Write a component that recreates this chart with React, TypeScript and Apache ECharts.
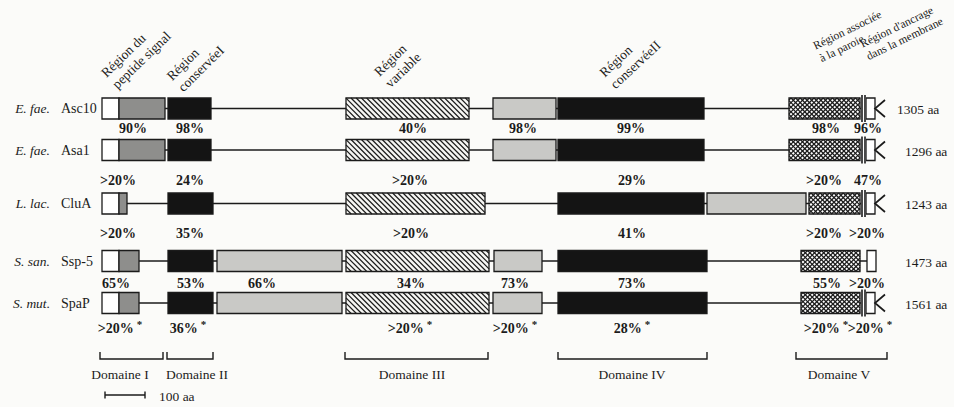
import React, { useEffect, useRef } from "react";
import * as echarts from "echarts";

// ---------- data (positions along the protein, in aa) ----------
const species = ["E. fae.", "E. fae.", "L. lac.", "S. san.", "S. mut."];
const proteins = ["Asc10", "Asa1", "CluA", "Ssp-5", "SpaP"];
const lengths = ["1305 aa", "1296 aa", "1243 aa", "1473 aa", "1561 aa"];
const anchorK = [true, true, true, false, true];

// [start, end, kind]  w=white, g=signal grey, b=black, h=hatched, l=light grey, x=cross-hatched, a=anchor box
const segAsc10: [number, number, string][] = [
  [0, 42.5, "w"], [42.5, 157.5, "g"], [165, 272.5, "b"], [610, 917.5, "h"],
  [977.5, 1135, "l"], [1140, 1505, "b"], [1717.5, 1895, "x"], [1910, 1932.5, "a"],
];
const segAsa1: [number, number, string][] = [
  [0, 42.5, "w"], [42.5, 157.5, "g"], [165, 272.5, "b"], [610, 917.5, "h"],
  [977.5, 1135, "l"], [1140, 1505, "b"], [1717.5, 1895, "x"], [1910, 1932.5, "a"],
];
const segCluA: [number, number, string][] = [
  [0, 42.5, "w"], [42.5, 62.5, "g"], [165, 277.5, "b"], [610, 957.5, "h"],
  [1140, 1505, "b"], [1512.5, 1760, "l"], [1767.5, 1895, "x"], [1910, 1932.5, "a"],
];
const segSsp5: [number, number, string][] = [
  [0, 42.5, "w"], [42.5, 92.5, "g"], [165, 277.5, "b"], [287.5, 600, "l"], [610, 967.5, "h"],
  [980, 1100, "l"], [1140, 1512.5, "b"], [1747.5, 1895, "x"], [1912.5, 1935, "a"],
];
const segSpaP: [number, number, string][] = [
  [0, 42.5, "w"], [42.5, 92.5, "g"], [165, 277.5, "b"], [287.5, 600, "l"], [610, 967.5, "h"],
  [977.5, 1100, "l"], [1140, 1512.5, "b"], [1747.5, 1895, "x"], [1910, 1932.5, "a"],
];
const rowSegments = [segAsc10, segAsa1, segCluA, segSsp5, segSpaP];

// identity labels under each row: [centre (aa), text]
const pctAsc10: [number, string][] = [[77.5, "90%"], [220, "98%"], [777.5, "40%"], [1052.5, "98%"], [1322.5, "99%"], [1810, "98%"], [1915, "96%"]];
const pctAsa1: [number, string][] = [[40, ">20%"], [220, "24%"], [770, ">20%"], [1325, "29%"], [1805, ">20%"], [1915, "47%"]];
const pctCluA: [number, string][] = [[40, ">20%"], [220, "35%"], [772.5, ">20%"], [1325, "41%"], [1805, ">20%"], [1912.5, ">20%"]];
const pctSsp5: [number, string][] = [[35, "65%"], [222.5, "53%"], [400, "66%"], [772.5, "34%"], [1032.5, "73%"], [1325, "73%"], [1812.5, "55%"], [1912.5, ">20%"]];
const pctSpaP: [number, string][] = [[45, ">20%"], [215, "36%"], [770, ">20%"], [1032.5, ">20%"], [1325, "28%"], [1810, ">20%"], [1920, ">20%"]];
const pctRows = [pctAsc10, pctAsa1, pctCluA, pctSsp5, pctSpaP];
const pctStarred = [false, false, false, false, true];

const headerTexts = [
  "Région du\npeptide signal",
  "Région\nconservéeI",
  "Région\nvariable",
  "Région\nconservéeII",
  "Région associée\nà la paroie",
  "Région d'ancrage\ndans la membrane",
];
const headerAt = [45, 210, 727.5, 1290, 1802.5, 1920];

const domainNames = ["Domaine I", "Domaine II", "Domaine III", "Domaine IV", "Domaine V"];
const domainStart = [-5, 162.5, 607.5, 1140, 1735];
const domainEnd = [152.5, 277.5, 965, 1512.5, 1962.5];
const domainLabelAt = [45, 237.5, 775, 1325, 1842.5];

const scaleBar = [7.5, 107.5];
const scaleLabel = "100 aa";

// ---------- layout ----------
const ROW_Y = [108.5, 150, 203.5, 261, 303];
const LABEL_Y = [128.5, 180, 233, 283, 328];
const HEADER_Y = [92, 95, 91, 92, 65, 63];
const HEADER_ROT = [44, 45, 44, 43, 26, 26];
const HEADER_FONT = [13.5, 13.5, 13.5, 13.5, 11.5, 11.5];
const HEADER_LH = [16, 16, 16, 16, 14, 14];
const LENGTH_X = [1987.5, 2007.5, 2007.5, 2007.5, 2007.5];
const BRACKET_Y = 359;
const DOMAIN_LABEL_Y = 374;
const SCALE_Y = 395;
const BOX_H = 21;
const INK = "#1b1b1b";
const SERIF = '"Liberation Serif", "DejaVu Serif", serif';

function hatch(x0: number, x1: number, y0: number, h: number, step: number, dir: number, width: number) {
  const out: any[] = [];
  for (let c = x0 - h - step; c <= x1 + h + step; c += step) {
    if (dir > 0) {
      const t0 = Math.max(0, x0 - c), t1 = Math.min(h, x1 - c);
      if (t1 > t0) out.push({ type: "line", shape: { x1: c + t0, y1: y0 + t0, x2: c + t1, y2: y0 + t1 }, style: { stroke: INK, lineWidth: width } });
    } else {
      const t0 = Math.max(0, c - x1), t1 = Math.min(h, c - x0);
      if (t1 > t0) out.push({ type: "line", shape: { x1: c - t0, y1: y0 + t0, x2: c - t1, y2: y0 + t1 }, style: { stroke: INK, lineWidth: width } });
    }
  }
  return out;
}

function segShape(kind: string, x0: number, x1: number, yc: number, h: number) {
  const y0 = yc - h / 2;
  const w = x1 - x0;
  const out: any[] = [];
  const fills: Record<string, string> = { w: "#ffffff", g: "#8e8e8c", b: "#141414", h: "#f6f6f3", l: "#c9c9c6", x: "#ffffff", a: "#ffffff" };
  out.push({ type: "rect", shape: { x: x0, y: y0, width: w, height: h }, style: { fill: fills[kind] } });
  if (kind === "h") out.push(...hatch(x0, x1, y0, h, 5.2, 1, 1.2));
  if (kind === "x") {
    out.push(...hatch(x0, x1, y0, h, 4.6, 1, 1.2));
    out.push(...hatch(x0, x1, y0, h, 4.6, -1, 1.2));
  }
  out.push({ type: "rect", shape: { x: x0, y: y0, width: w, height: h }, style: { fill: "none", stroke: INK, lineWidth: 1.3 } });
  return out;
}

function renderRow(params: any, api: any) {
  const i = params.dataIndex;
  const segs = rowSegments[i];
  const yc = api.coord([0, ROW_Y[i]])[1];
  const h = BOX_H;
  const children: any[] = [];
  const last = segs[segs.length - 1];
  const xs = api.coord([segs[0][0], 0])[0];
  const xe = api.coord([last[0], 0])[0];
  children.push({ type: "line", shape: { x1: xs, y1: yc, x2: xe, y2: yc }, style: { stroke: INK, lineWidth: 1.7 } });
  for (const [s, e, k] of segs) {
    const x0 = api.coord([s, 0])[0];
    const x1 = api.coord([e, 0])[0];
    children.push(...segShape(k, x0, x1, yc, h));
  }
  if (anchorK[i]) {
    const bx0 = api.coord([last[0], 0])[0];
    const bx1 = api.coord([last[1], 0])[0];
    const top = yc - h / 2, bot = yc + h / 2;
    children.push({ type: "rect", shape: { x: bx0 - 5, y: top - 3, width: 5, height: h + 6 }, style: { fill: "#ffffff" } });
    children.push({ type: "line", shape: { x1: bx0 - 4, y1: top - 3, x2: bx0 - 4, y2: bot + 3 }, style: { stroke: INK, lineWidth: 1.6 } });
    children.push({ type: "line", shape: { x1: bx0 - 1, y1: top - 3, x2: bx0 - 1, y2: bot + 3 }, style: { stroke: INK, lineWidth: 1.6 } });
    children.push({ type: "polyline", shape: { points: [[bx1 + 10, top + 2], [bx1, yc], [bx1 + 10, bot - 2]] }, style: { stroke: INK, lineWidth: 1.7, fill: "none" } });
  }
  // row labels
  children.push({ type: "text", x: api.coord([-130, 0])[0], y: yc, style: { text: species[i], font: `italic 13.5px ${SERIF}`, fill: INK, align: "right", verticalAlign: "middle" } });
  children.push({ type: "text", x: api.coord([-102.5, 0])[0], y: yc, style: { text: proteins[i], font: `14px ${SERIF}`, fill: INK, align: "left", verticalAlign: "middle" } });
  children.push({ type: "text", x: api.coord([LENGTH_X[i], 0])[0], y: yc + 1, style: { text: lengths[i], font: `13.5px ${SERIF}`, fill: INK, align: "left", verticalAlign: "middle" } });
  return { type: "group", children };
}

const pctItems: { x: number; row: number; text: string }[] = [];
pctRows.forEach((r, row) => r.forEach(([x, text]) => pctItems.push({ x, row, text })));

function renderPct(params: any, api: any) {
  const it = pctItems[params.dataIndex];
  const [x, y] = api.coord([it.x, LABEL_Y[it.row]]);
  const star = pctStarred[it.row];
  return {
    type: "text",
    x,
    y,
    style: {
      text: star ? `{a|${it.text}}{s|*}` : `{a|${it.text}}`,
      align: "center",
      verticalAlign: "middle",
      fill: INK,
      rich: {
        a: { font: `bold 14px ${SERIF}`, fill: INK, lineHeight: 20 },
        s: { font: `bold 11px ${SERIF}`, fill: INK, lineHeight: 11, verticalAlign: "top", padding: [0, 0, 0, 3] },
      },
    },
  };
}

function renderHeader(params: any, api: any) {
  const i = params.dataIndex;
  const [x, y] = api.coord([headerAt[i], HEADER_Y[i]]);
  return {
    type: "text",
    x,
    y,
    rotation: (HEADER_ROT[i] * Math.PI) / 180,
    style: {
      text: headerTexts[i],
      font: `${HEADER_FONT[i]}px ${SERIF}`,
      lineHeight: HEADER_LH[i],
      fill: INK,
      align: "left",
      verticalAlign: "bottom",
    },
  };
}

function renderDomain(params: any, api: any) {
  const i = params.dataIndex;
  const [x0, y] = api.coord([domainStart[i], BRACKET_Y]);
  const x1 = api.coord([domainEnd[i], BRACKET_Y])[0];
  const [lx, ly] = api.coord([domainLabelAt[i], DOMAIN_LABEL_Y]);
  return {
    type: "group",
    children: [
      { type: "polyline", shape: { points: [[x0, y - 7], [x0, y], [x1, y], [x1, y - 7]] }, style: { stroke: INK, lineWidth: 1.4, fill: "none" } },
      { type: "text", x: lx, y: ly, style: { text: domainNames[i], font: `13.5px ${SERIF}`, fill: INK, align: "center", verticalAlign: "middle" } },
    ],
  };
}

function renderScale(params: any, api: any) {
  const [x0, y] = api.coord([scaleBar[0], SCALE_Y]);
  const x1 = api.coord([scaleBar[1], SCALE_Y])[0];
  return {
    type: "group",
    children: [
      { type: "line", shape: { x1: x0, y1: y, x2: x1, y2: y }, style: { stroke: INK, lineWidth: 1.4 } },
      { type: "line", shape: { x1: x0, y1: y - 3.5, x2: x0, y2: y + 3.5 }, style: { stroke: INK, lineWidth: 1.4 } },
      { type: "line", shape: { x1: x1, y1: y - 3.5, x2: x1, y2: y + 3.5 }, style: { stroke: INK, lineWidth: 1.4 } },
      { type: "text", x: x1 + 14, y: y + 1, style: { text: scaleLabel, font: `13.5px ${SERIF}`, fill: INK, align: "left", verticalAlign: "middle" } },
    ],
  };
}

const option: any = {
  animation: false,
  backgroundColor: "#fbfbf9",
  grid: { left: 0, right: 0, top: 0, bottom: 0, containLabel: false },
  xAxis: { type: "value", min: -255, max: 2130, show: false },
  yAxis: { type: "value", min: 0, max: 407, inverse: true, show: false },
  series: [
    { type: "custom", name: "rows", renderItem: renderRow, data: proteins.map((_, i) => [0, ROW_Y[i]]), silent: true },
    { type: "custom", name: "identity", renderItem: renderPct, data: pctItems.map((p) => [p.x, LABEL_Y[p.row]]), silent: true },
    { type: "custom", name: "headers", renderItem: renderHeader, data: headerAt.map((x, i) => [x, HEADER_Y[i]]), silent: true },
    { type: "custom", name: "domains", renderItem: renderDomain, data: domainNames.map((_, i) => [domainStart[i], BRACKET_Y]), silent: true },
    { type: "custom", name: "scale", renderItem: renderScale, data: [[scaleBar[0], SCALE_Y]], silent: true },
  ],
};

export default function App() {
  const ref = useRef<HTMLDivElement>(null);
  useEffect(() => {
    const chart = echarts.init(ref.current!, null, { renderer: "svg" });
    chart.setOption(option);
    return () => chart.dispose();
  }, []);
  return <div ref={ref} style={{ position: "absolute", left: 0, top: 0, width: 954, height: 407 }} />;
}
